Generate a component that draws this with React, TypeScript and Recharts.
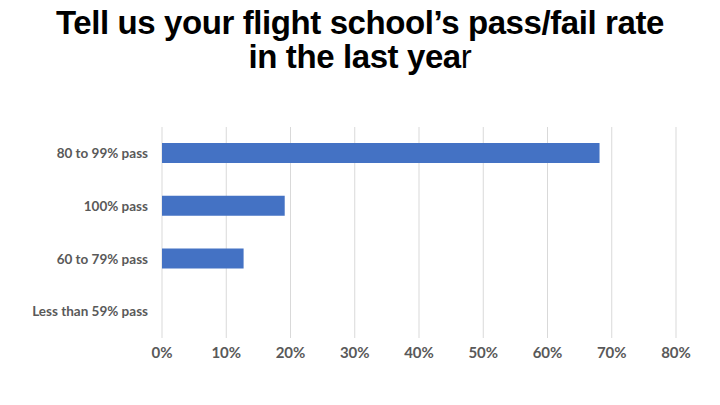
import { BarChart, Bar, XAxis, YAxis, CartesianGrid } from "recharts";

const categories = ["80 to 99% pass", "100% pass", "60 to 79% pass", "Less than 59% pass"];
const shares = [0.681, 0.191, 0.127, 0];
const xTicks = [0, 0.1, 0.2, 0.3, 0.4, 0.5, 0.6, 0.7, 0.8];

const data = categories.map((name, i) => ({ name, value: shares[i] }));

const labelFont = "Lato, 'Open Sans', sans-serif";

export default function App() {
  return (
    <div
      style={{
        position: "absolute",
        left: 0,
        top: 0,
        width: 720,
        height: 405,
        background: "#fff",
        overflow: "hidden",
      }}
    >
      <div
        style={{
          position: "absolute",
          left: 0,
          top: 6,
          width: 720,
          textAlign: "center",
          fontFamily: "'Liberation Sans', Arial, sans-serif",
          fontWeight: 700,
          fontSize: 33,
          lineHeight: "34px",
          letterSpacing: -0.4,
          color: "#000",
        }}
      >
        <div>Tell us your flight school’s pass/fail rate</div>
        <div>
          in the last yea<span style={{ fontWeight: 400 }}>r</span>
        </div>
      </div>
      <BarChart
        width={720}
        height={405}
        layout="vertical"
        data={data}
        margin={{ top: 127, right: 44, bottom: 37, left: 0 }}
        barCategoryGap="62%"
      >
        <CartesianGrid horizontal={false} stroke="#d9d9d9" />
        <XAxis
          type="number"
          domain={[0, 0.8]}
          ticks={xTicks}
          tickFormatter={(v) => `${Math.round(v * 100)}%`}
          axisLine={false}
          tickLine={false}
          tickMargin={3}
          height={30}
          tick={{ fill: "#595959", fontSize: 15, fontWeight: 700, fontFamily: labelFont }}
        />
        <YAxis
          type="category"
          dataKey="name"
          width={162}
          axisLine={false}
          tickLine={false}
          tickMargin={8}
          tick={{ fill: "#595959", fontSize: 13.5, fontWeight: 700, fontFamily: labelFont }}
        />
        <Bar dataKey="value" fill="#4472C4" barSize={20} isAnimationActive={false} />
      </BarChart>
    </div>
  );
}
